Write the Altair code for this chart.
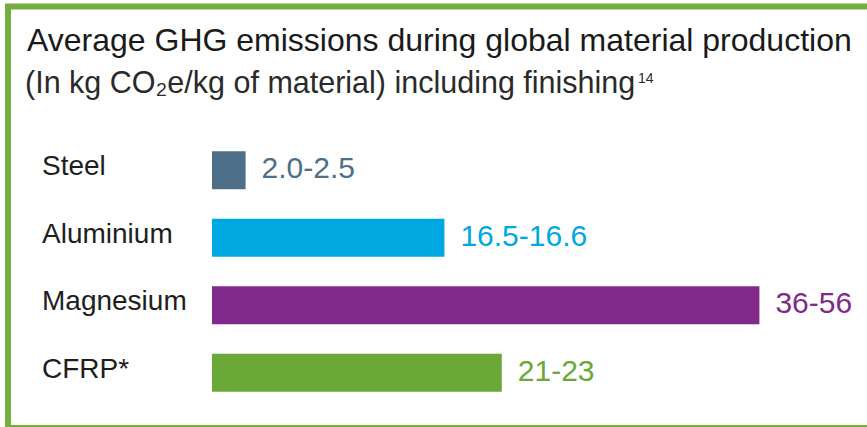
import altair as alt
import pandas as pd

# ---- data ----
materials = ["Steel", "Aluminium", "Magnesium", "CFRP*"]
bar_lengths = [2.4, 16.6, 39.1, 20.7]          # bar lengths as drawn
range_labels = ["2.0-2.5", "16.5-16.6", "36-56", "21-23"]
colors = ["#4e6f89", "#00a8e2", "#812a8b", "#6aa838"]
title_line1 = "Average GHG emissions during global material production"
title_line2 = "(In kg CO\u2082e/kg of material) including finishing"
footnote_mark = "14"

FONT = "Liberation Sans"
W, H = 867, 427

df = pd.DataFrame({"material": materials, "length": bar_lengths, "label": range_labels})

x_scale = alt.Scale(domain=[0, 40], range=[212, 772])
y_scale = alt.Scale(domain=materials, range=[151, 392], paddingInner=0.43, paddingOuter=0)
c_scale = alt.Scale(domain=materials, range=colors)

base = alt.Chart(df)
Y = alt.Y("material:N", scale=y_scale, axis=None, sort=materials)

bars = base.mark_bar(size=38).encode(
    x=alt.X("length:Q", scale=x_scale, axis=None),
    y=Y,
    color=alt.Color("material:N", scale=c_scale, legend=None),
)

cat_labels = base.mark_text(align="left", baseline="middle", dy=-3, fontSize=28,
                            font=FONT, color="#1e1e1e").encode(
    x=alt.value(42),
    y=Y,
    text="material:N",
)

val_labels = base.mark_text(align="left", baseline="middle", dx=16, dy=-1, fontSize=30,
                            font=FONT).encode(
    x=alt.X("length:Q", scale=x_scale, axis=None),
    y=Y,
    text="label:N",
    color=alt.Color("material:N", scale=c_scale, legend=None),
)

one = pd.DataFrame({"t1": [title_line1], "t2": [title_line2], "fn": [footnote_mark]})
t1 = alt.Chart(one).mark_text(align="left", baseline="alphabetic", fontSize=32,
                              font=FONT, color="#1a1a1a").encode(
    x=alt.value(27), y=alt.value(51), text="t1:N")
t2 = alt.Chart(one).mark_text(align="left", baseline="alphabetic", fontSize=30.5,
                              font=FONT, color="#2a2a2a").encode(
    x=alt.value(25), y=alt.value(93), text="t2:N")
fn = alt.Chart(one).mark_text(align="left", baseline="alphabetic", fontSize=14,
                              font=FONT, color="#2a2a2a").encode(
    x=alt.value(638), y=alt.value(83), text="fn:N")

border = alt.Chart(one).mark_rect(filled=False, stroke="#74ae3f", strokeWidth=6).encode(
    x=alt.value(8), x2=alt.value(900), y=alt.value(6.5), y2=alt.value(428))

chart = alt.layer(border, t1, t2, fn, bars, cat_labels, val_labels).properties(
    width=W, height=H,
    autosize=alt.AutoSizeParams(type="none"),
    padding=0,
    background="white",
).configure_view(stroke=None)

chart.save("out.html", embed_options={"renderer": "svg", "actions": False})
